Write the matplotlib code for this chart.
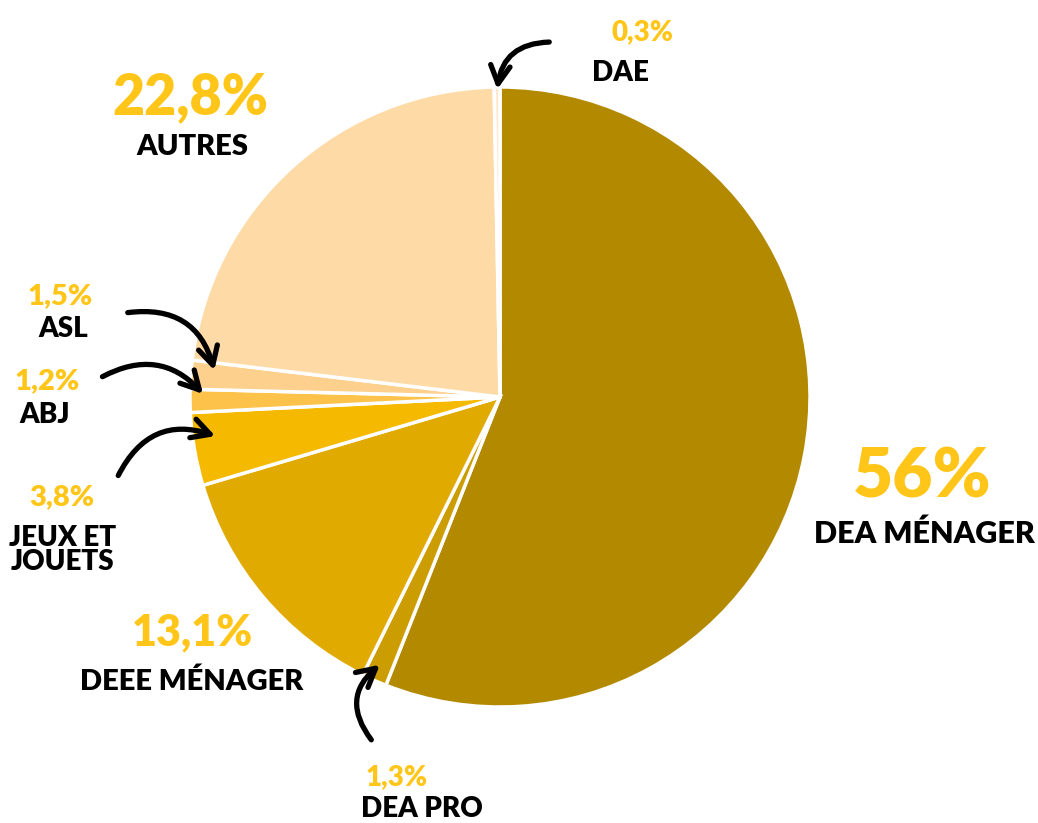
import matplotlib.pyplot as plt
from matplotlib.patches import FancyArrowPatch

plt.rcParams['font.family'] = ['Lato', 'DejaVu Sans']

labels = ["DEA MÉNAGER", "DEA PRO", "DEEE MÉNAGER", "JEUX ET\nJOUETS",
          "ABJ", "ASL", "AUTRES", "DAE"]
shares = [56.0, 1.3, 13.1, 3.8, 1.2, 1.5, 22.8, 0.3]
share_text = ["56%", "1,3%", "13,1%", "3,8%", "1,2%", "1,5%", "22,8%", "0,3%"]
colors = ["#B38900", "#CC9D00", "#E0AA00", "#F5B900",
          "#FCC24A", "#FDD08E", "#FEDBA6", "#FEE9CF"]

W, H = 1038, 823
fig = plt.figure(figsize=(W / 100, H / 100), dpi=100)
ax = fig.add_axes([0, 0, 1, 1])


def py(y):
    # pixel row from the top -> data y
    return H - y


ax.pie(shares, colors=colors, startangle=90, counterclock=False,
       center=(500, py(397)), radius=310, frame=True,
       wedgeprops=dict(edgecolor='white', linewidth=2.5))
ax.set_xlim(0, W)
ax.set_ylim(0, H)
ax.set_aspect('equal')
ax.axis('off')

pct_color = "#FFC619"

# (percent pos, percent size, label pos, label size)
layout = {
    "DEA MÉNAGER": ((922, 478), 50, (924, 534), 22),
    "DEA PRO": ((397, 777), 20, (422, 809), 20),
    "DEEE MÉNAGER": ((192, 632), 31, (192, 682), 21),
    "JEUX ET\nJOUETS": ((62, 497), 21, (63, 550), 20),
    "ABJ": ((47, 381), 21, (45, 415), 20),
    "ASL": ((60, 296), 21, (63, 329), 20),
    "AUTRES": ((190, 97), 40, (192, 147), 21),
    "DAE": ((643, 32), 20, (620, 73), 20),
}

for lab, txt in zip(labels, share_text):
    (px, pyy), ps, (lx, ly), ls = layout[lab]
    ax.text(px, py(pyy), txt, color=pct_color, fontsize=ps, fontweight='heavy',
            ha='center', va='center')
    ax.text(lx, py(ly), lab, color='black', fontsize=ls, fontweight='heavy',
            ha='center', va='center', linespacing=0.95)

arrows = [
    ((552, 42), (497, 92), 0.45),
    ((125, 313), (215, 373), -0.45),
    ((100, 378), (205, 396), -0.4),
    ((117, 478), (218, 437), -0.45),
    ((373, 742), (382, 663), -0.5),
]
for (x1, y1), (x2, y2), rad in arrows:
    ax.add_patch(FancyArrowPatch((x1, py(y1)), (x2, py(y2)),
                                 connectionstyle=f"arc3,rad={rad}",
                                 arrowstyle="->,head_length=13,head_width=7",
                                 color='black', linewidth=3.8,
                                 capstyle='round', joinstyle='round'))

fig.savefig("out.png", dpi=100, facecolor='white')
